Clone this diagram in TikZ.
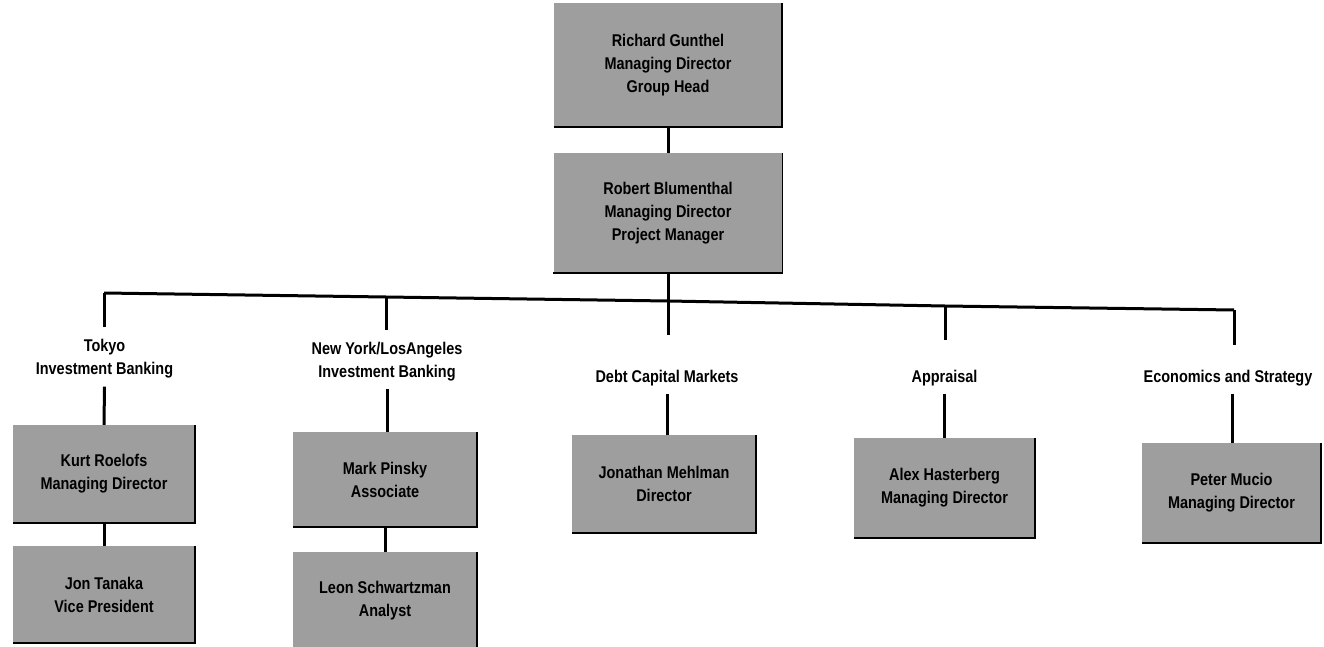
\documentclass[tikz,border=0pt]{standalone}
\usepackage{fontspec}
\setmainfont{Liberation Sans}[FakeStretch=0.92,BoldFeatures={FakeStretch=0.85}]
\begin{document}
\definecolor{boxgray}{rgb}{0.62,0.62,0.62}
\tikzset{
  orgbox/.style={rectangle, fill=boxgray, inner sep=0pt, align=center,
    font=\fontsize{17}{23}\selectfont\bfseries},
  unitlabel/.style={inner xsep=0pt, inner ysep=8pt, align=center,
    font=\fontsize{17}{23}\selectfont\bfseries},
  link/.style={line width=3pt},
  edge/.style={line width=1.5pt}
}
\begin{tikzpicture}[x=1pt,y=-1pt]
\useasboundingbox (0,0) rectangle (1324,647);

% management chain
\node[orgbox, minimum width=228pt, minimum height=124pt] (head) at (668,65)
  {Richard Gunthel\\Managing Director\\Group Head};
\node[orgbox, minimum width=229pt, minimum height=120pt] (pm) at (668,213)
  {Robert Blumenthal\\Managing Director\\Project Manager};

% junctions on the distribution bar
\coordinate (j1) at (104,293);
\coordinate (j2) at (386,297);
\coordinate (j3) at (668,301);
\coordinate (j4) at (945,306);
\coordinate (j5) at (1234,310);

% free ends of the drops above each unit label
\coordinate (d1) at (104,327);
\coordinate (d2) at (386,330);
\coordinate (d3) at (668,335);
\coordinate (d4) at (945,340);
\coordinate (d5) at (1234,345);

% unit labels
\node[unitlabel] (tokyo) at (104.5,359) {Tokyo\\Investment Banking};
\node[unitlabel] (nyla) at (387,361.5) {New York/LosAngeles\\Investment Banking};
\node[unitlabel] (debt) at (667,378) {Debt Capital Markets};
\node[unitlabel] (appr) at (944.5,378) {Appraisal};
\node[unitlabel] (econ) at (1228,378) {Economics and Strategy};

% staff boxes
\node[orgbox, minimum width=182pt, minimum height=98pt] (kurt) at (104,474)
  {Kurt Roelofs\\Managing Director};
\node[orgbox, minimum width=182pt, minimum height=97pt] (jon) at (104,594.5)
  {Jon Tanaka\\Vice President};
\node[orgbox, minimum width=184pt, minimum height=95pt] (mark) at (385,479.5)
  {Mark Pinsky\\Associate};
\node[orgbox, minimum width=184pt, minimum height=98pt] (leon) at (385,601)
  {Leon Schwartzman\\Analyst};
\node[orgbox, minimum width=184pt, minimum height=98pt] (jonathan) at (664,484)
  {Jonathan Mehlman\\Director};
\node[orgbox, minimum width=181pt, minimum height=100pt] (alex) at (944.5,488)
  {Alex Hasterberg\\Managing Director};
\node[orgbox, minimum width=179pt, minimum height=100pt] (peter) at (1231.5,493)
  {Peter Mucio\\Managing Director};

% dark right and bottom edges of every box
\foreach \b in {head,pm,kurt,jon,mark,leon,jonathan,alex,peter}
  \draw[edge] (\b.north east) -- (\b.south east) -- (\b.south west);

% connectors
\draw[link] (head.south) -- (pm.north);
\draw[link] (pm.south) -- (j3);
\draw[link] (j1) -- (j2) -- (j3) -- (j4) -- (j5);
\draw[link] (j1) -- (d1);
\draw[link] (j2) -- (d2);
\draw[link] (j3) -- (d3);
\draw[link] (j4) -- (d4);
\draw[link] (j5) -- (d5);
\draw[link] (tokyo.south) -- (kurt.north);
\draw[link] (nyla.south) -- (nyla.south |- mark.north);
\draw[link] (debt.south) -- (debt.south |- jonathan.north);
\draw[link] (appr.south) -- (appr.south |- alex.north);
\draw[link] ([xshift=4pt]econ.south) -- ([xshift=4pt]econ.south |- peter.north);
\draw[link] (kurt.south) -- (jon.north);
\draw[link] (mark.south) -- (leon.north);
\end{tikzpicture}
\end{document}
